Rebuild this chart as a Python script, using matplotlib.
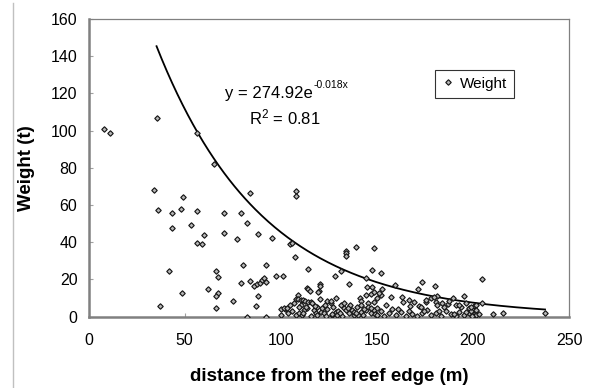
import numpy as np
import matplotlib
matplotlib.use("Agg")
import matplotlib.pyplot as plt
from matplotlib.lines import Line2D

plt.rcParams['font.family'] = ['Liberation Sans', 'DejaVu Sans']
plt.rcParams['mathtext.default'] = 'regular'

# sparse points
dist_sparse = [8.2, 11.2, 35.4, 56.4, 65.3, 84.2, 34.3, 36.2, 43.4, 48.2, 49.3, 43.2, 53.3,
               56.4, 60.2, 56.4, 59.2, 70.3, 70.3, 79.4, 82.3, 77.3, 88.2, 95.5, 42.1, 37.3,
               48.4, 62.3, 66.1, 67.4, 67.4, 66.3, 66.1, 75.3, 80.2, 79.4, 84.2, 86.3, 87.7,
               89.1, 90.3, 91.1, 92.2, 92.4, 97.4, 101.2, 88.2, 87.3, 82.3, 92.4, 100.4, 100.4,
               102.4, 105.0, 106.1, 107.3, 108.0, 108.0, 134.1, 134.1, 134.1, 139.3, 148.3,
               114.4, 128.4, 131.3, 135.5, 144.2, 147.3, 152.3, 159.6, 171.3, 173.5, 180.3,
               181.5, 195.3, 204.5, 204.5, 210.4, 215.4, 237.5, 120.3, 200.3]
wt_sparse = [101, 98.5, 106.6, 98.5, 81.9, 66.3, 67.9, 57.3, 55.9, 57.9, 64.2, 47.5, 49.1,
             56.6, 43.9, 39.4, 39.1, 55.9, 44.8, 55.6, 50.2, 41.6, 44.4, 42.3, 24.4, 5.6,
             12.7, 14.9, 24.7, 21.2, 12.6, 11.1, 4.7, 8.4, 28.0, 17.9, 19.0, 16.3, 17.4,
             18.3, 19.7, 20.6, 18.8, 27.8, 21.9, 21.9, 11.1, 5.6, 0.0, 0.0, 0.9, 4.0,
             4.3, 38.9, 39.4, 32.2, 67.5, 65.0, 35.3, 34.0, 32.8, 37.3, 37.1,
             25.8, 21.9, 24.7, 17.6, 21.0, 24.9, 23.5, 17.0, 14.9, 18.6, 16.3,
             11.1, 11.3, 20.1, 7.4, 1.5, 2.0, 2.0, 17.6, 5.7]

# dense cluster near the bottom
dist_dense = [113.7, 114.4, 115.1, 119.7, 109.2, 107.8, 108.9, 110.3, 111.8, 112.8, 114.4, 115.5,
              120.3, 124.2, 129.0, 131.6, 133.0, 141.2, 141.6, 144.3, 147.1, 145.4, 148.3, 150.0,
              101.7, 103.2, 107.7, 109.4, 112.0, 113.8, 117.2, 118.1, 119.0, 120.7, 121.6, 122.4,
              123.3, 125.9, 126.8, 128.5, 129.4, 132.0, 133.7, 135.5, 137.2, 138.1, 139.8, 141.6,
              143.0, 144.2, 145.4, 146.8, 148.5, 150.3, 106.8, 110.3, 112.9, 116.4, 119.0,
              104.0, 105.0, 106.0, 111.0, 116.0, 124.0, 127.0, 130.0, 136.0, 138.0, 140.0, 142.0,
              147.0, 149.0, 152.9, 152.0, 151.1, 157.4, 163.3, 163.6, 169.3, 171.9, 172.8, 175.5,
              178.0, 179.8, 180.7, 181.5, 185.0, 186.8, 187.6, 189.4, 191.1, 193.7, 196.3, 198.0,
              199.8, 201.5, 150.3, 152.0, 153.8, 156.3, 158.1, 159.8, 162.4, 165.0, 166.7, 168.5,
              171.0, 173.6, 176.3, 178.0, 180.7, 183.3, 185.9, 188.5, 191.1, 192.8, 195.4, 198.0,
              200.6, 198.9, 201.5, 201.5, 203.1, 199.7, 145.0, 166.7, 175.4, 184.1, 192.8, 198.9,
              120.3, 119.3, 125.9, 132.9, 147.6, 148.5, 150.3, 109.5, 111.5, 117.8, 122.8, 126.5,
              131.0, 134.8, 139.0, 143.5, 155.0, 161.0, 167.5, 174.5, 182.5, 190.0, 196.5]
wt_dense = [15.2, 14.6, 13.8, 14.0, 11.7, 9.3, 9.5, 9.0, 8.8, 8.4, 8.0, 8.0,
            9.3, 8.4, 9.9, 6.3, 4.5, 10.2, 8.6, 11.7, 12.4, 7.4, 7.9, 9.9,
            4.5, 4.5, 0.9, 1.8, 3.6, 4.5, 3.6, 1.8, 0.9, 2.7, 4.5, 1.8,
            0.5, 7.2, 0.9, 2.7, 0.9, 0.5, 3.6, 1.8, 3.6, 0.9, 5.4, 2.7,
            0.9, 3.6, 5.4, 1.8, 3.6, 0.9, 7.2, 6.3, 5.4, 7.2, 5.4,
            2.0, 6.0, 3.0, 1.0, 0.5, 4.0, 5.0, 3.0, 6.0, 2.5, 1.0, 6.5,
            4.5, 1.5, 14.9, 11.7, 12.6, 10.7, 10.7, 8.1, 8.1, 5.9, 5.4, 8.1,
            9.9, 10.7, 8.1, 6.3, 5.4, 6.8, 8.4, 9.9, 6.3, 5.4, 7.2, 4.5,
            3.6, 6.3, 1.0, 3.0, 0.5, 2.0, 4.0, 1.0, 2.5, 0.5, 3.0, 1.5,
            0.5, 2.0, 3.5, 1.0, 2.0, 0.5, 3.0, 1.5, 0.5, 2.5, 1.0, 2.0,
            0.5, 3.1, 3.6, 0.9, 1.3, 0.5, 15.8, 9.0, 9.0, 7.2, 6.3, 5.4,
            16.5, 13.4, 8.6, 7.2, 16.1, 13.4, 4.5, 5.0, 2.2, 5.8, 6.5, 1.2,
            2.0, 4.8, 2.2, 4.0, 6.0, 4.2, 5.5, 3.2, 2.8, 1.5, 2.4]

distance = np.array(dist_sparse + dist_dense)
weight = np.array(wt_sparse + wt_dense)

# trendline shown on the chart: y = 274.92 e^(-0.018x)
fit_a = 274.92
fit_b = -0.018
fit_r2 = 0.81
fit_x_start = 35.4
fit_x_end = 237.5

fig = plt.figure(figsize=(5.9, 3.88), dpi=100)
ax = fig.add_axes([0.150, 0.184, 0.8145, 0.767])

mstyle = dict(marker='D', ms=2.8, mfc='#b4b4b4', mec='#111111', mew=0.8, linestyle='none')
ax.plot(distance, weight, zorder=3, **mstyle)

xf = np.linspace(fit_x_start, fit_x_end, 300)
ax.plot(xf, fit_a * np.exp(fit_b * xf), color='black', lw=1.3, zorder=2)

ax.set_xlim(0, 250)
ax.set_ylim(0, 160)
ax.set_xticks(np.arange(0, 251, 50))
ax.set_yticks(np.arange(0, 161, 20))
ax.tick_params(direction='in', length=3, color='#a0a0a0', labelsize=11.5)
ax.tick_params(axis='x', pad=12)
ax.tick_params(axis='y', pad=8)

for s in ['left', 'bottom']:
    ax.spines[s].set_color('#808080')
    ax.spines[s].set_linewidth(1.8)
for s in ['top', 'right']:
    ax.spines[s].set_color('#808080')
    ax.spines[s].set_linewidth(0.9)

ax.set_xlabel('distance from the reef edge (m)', fontsize=13.5, fontweight='bold', labelpad=14)
ax.set_ylabel('Weight (t)', fontsize=13.5, fontweight='bold', labelpad=11)

eq = ax.text(0.285, 0.750, 'y = 274.92e', transform=ax.transAxes,
             fontsize=12, va='center', ha='left')
ax.annotate('-0.018x', xy=(1.0, 0.72), xycoords=eq, fontsize=7.5, va='bottom', ha='left')
ax.text(0.333, 0.668, 'R$^{2}$ = %.2f' % fit_r2, transform=ax.transAxes,
        fontsize=12, va='center', ha='left')

handle = Line2D([], [], **mstyle)
leg = ax.legend([handle], ['Weight'], loc='upper left', bbox_to_anchor=(0.721, 0.829),
                borderaxespad=0, fontsize=11, frameon=True, fancybox=False,
                handlelength=0.8, handletextpad=0.4, borderpad=0.45)
leg.get_frame().set_edgecolor('black')
leg.get_frame().set_linewidth(0.8)

# chart area edge on the left
fig.add_artist(Line2D([13 / 590, 13 / 590], [0, 385 / 388], color='#c0c0c0', lw=1))

fig.savefig('out.png', dpi=100)
